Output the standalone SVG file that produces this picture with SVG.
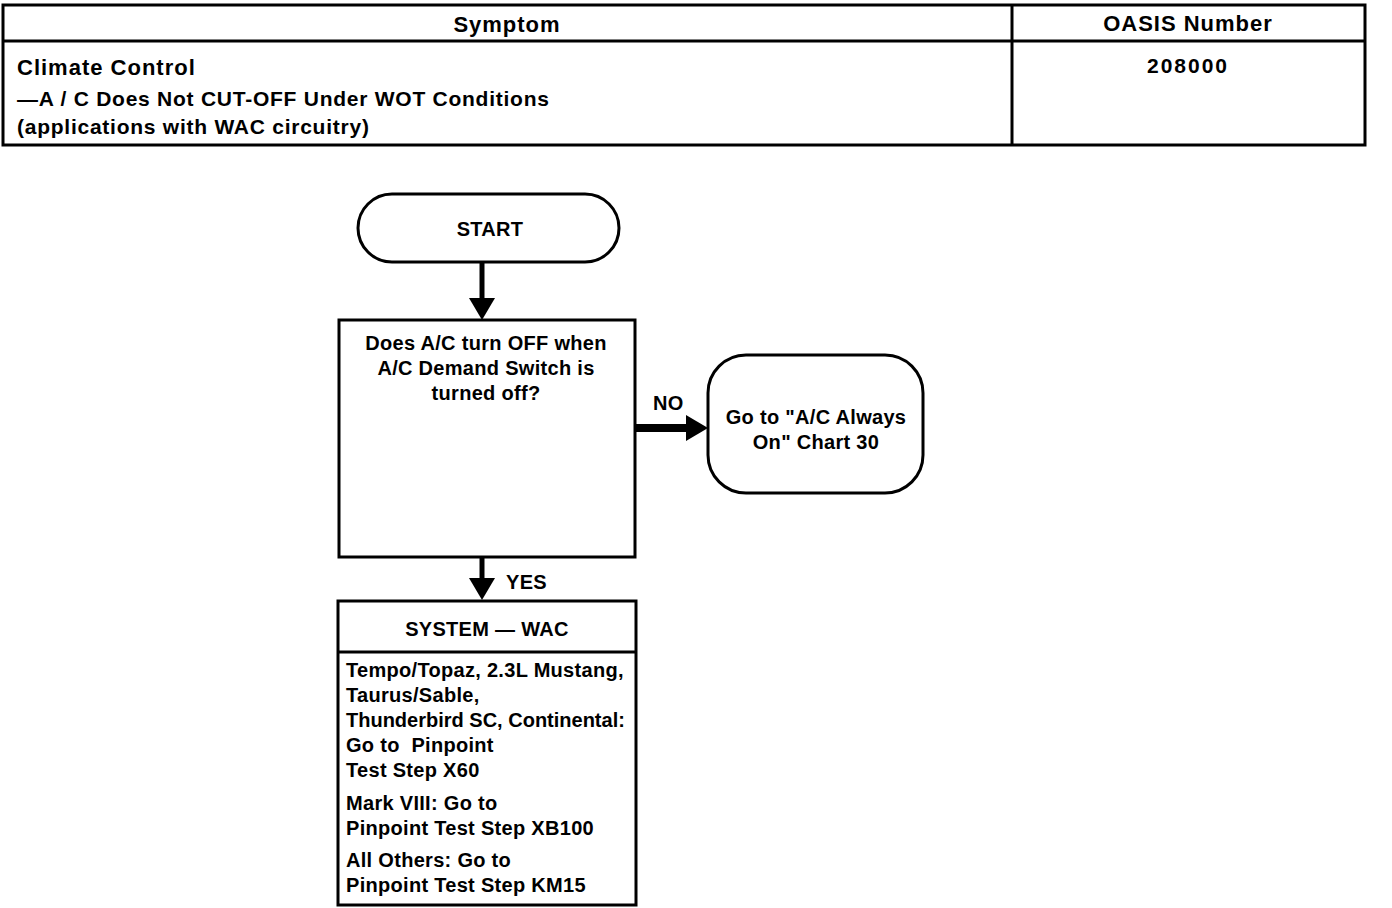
<svg xmlns="http://www.w3.org/2000/svg" width="1392" height="908" viewBox="0 0 1392 908">
<style>
text{font-family:"Liberation Sans",Arial,sans-serif;fill:#000;font-size:20px;font-weight:bold;letter-spacing:0.3px}
.h{font-size:22px;letter-spacing:1px}
.t{font-size:21px;letter-spacing:0.75px}
.n{font-size:21px;letter-spacing:2px}
.c{text-anchor:middle}
.box{fill:#fff;stroke:#000;stroke-width:3}
.ln{stroke:#000;fill:none}
</style>
<rect width="1392" height="908" fill="#fff"/>
<g id="table">
<rect x="3" y="5" width="1362" height="140" class="box"/>
<line x1="3" y1="41" x2="1365" y2="41" class="ln" stroke-width="3"/>
<line x1="1012" y1="5" x2="1012" y2="145" class="ln" stroke-width="3"/>
<text x="507" y="32" class="h c">Symptom</text>
<text x="1188" y="31" class="h c">OASIS Number</text>
<text x="17" y="75" class="h">Climate Control</text>
<text x="17" y="106" class="t">—A / C Does Not CUT-OFF Under WOT Conditions</text>
<text x="17" y="134" class="t">(applications with WAC circuitry)</text>
<text x="1188" y="73" class="c n">208000</text>
</g>
<g id="connectors">
<line x1="482" y1="262" x2="482" y2="302" class="ln" stroke-width="5"/>
<polygon points="469,298 495,298 482,320"/>
<line x1="635" y1="428" x2="690" y2="428" class="ln" stroke-width="8"/>
<polygon points="686,415 686,441 708,428"/>
<text x="653" y="410">NO</text>
<line x1="482" y1="557" x2="482" y2="582" class="ln" stroke-width="5"/>
<polygon points="469,578 495,578 482,600"/>
<text x="506" y="589">YES</text>
</g>
<g id="start">
<rect x="358" y="194" width="261" height="68" rx="34" class="box"/>
<text x="490" y="236" class="c">START</text>
</g>
<g id="decision">
<rect x="339" y="320" width="296" height="237" class="box"/>
<text x="486" y="350" class="c">Does A/C turn OFF when</text>
<text x="486" y="375" class="c">A/C Demand Switch is</text>
<text x="486" y="400" class="c">turned off?</text>
</g>
<g id="goto">
<rect x="708" y="355" width="215" height="138" rx="38" class="box"/>
<text x="816" y="424" class="c">Go to "A/C Always</text>
<text x="816" y="449" class="c">On" Chart 30</text>
</g>
<g id="system">
<rect x="338" y="601" width="298" height="304" class="box"/>
<line x1="338" y1="652" x2="636" y2="652" class="ln" stroke-width="3"/>
<text x="487" y="636" class="c">SYSTEM — WAC</text>
<text x="346" y="677">Tempo/Topaz, 2.3L Mustang,</text>
<text x="346" y="702">Taurus/Sable,</text>
<text x="346" y="727" style="letter-spacing:0">Thunderbird SC, Continental:</text>
<text x="346" y="752">Go to&#160; Pinpoint</text>
<text x="346" y="777">Test Step X60</text>
<text x="346" y="810">Mark VIII: Go to</text>
<text x="346" y="835">Pinpoint Test Step XB100</text>
<text x="346" y="867">All Others: Go to</text>
<text x="346" y="892">Pinpoint Test Step KM15</text>
</g>
</svg>
